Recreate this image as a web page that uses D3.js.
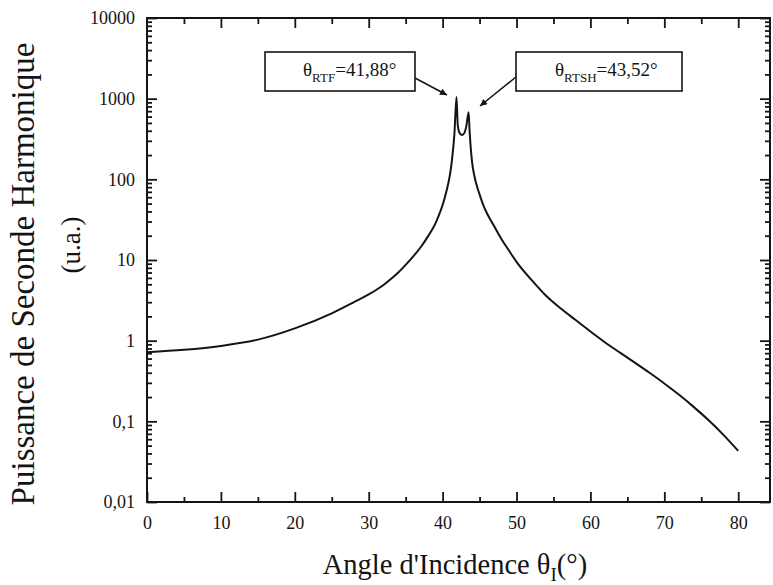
<!DOCTYPE html>
<html>
<head>
<meta charset="utf-8">
<script src="https://cdn.jsdelivr.net/npm/d3@7"></script>
<style>
  html, body { margin: 0; padding: 0; background: #fff; }
  svg { display: block; }
  svg text { font-family: "Liberation Serif", "DejaVu Serif", serif !important; fill: #141414; }
</style>
</head>
<body>
<svg id="chart" width="773" height="585"></svg>
<script>
// ---- data ----
const angles = [0, 5, 10, 15, 20, 25, 28, 29, 30, 31, 32, 33, 34, 35, 36, 37, 38, 39, 39.5, 40, 40.5, 41, 41.3, 41.6, 41.88,
  42.05, 42.3, 42.6, 42.9, 43.2, 43.52, 43.65, 43.8, 44.0, 44.3, 44.6, 45, 45.5, 46, 47, 48, 49, 50,
  52, 54, 56, 58, 60, 62, 64, 66, 68, 70, 72, 74, 76, 78, 80];
const power = [0.72, 0.77, 0.86, 1.03, 1.42, 2.18, 3.0, 3.35, 3.75, 4.25, 4.9, 5.8, 7.0, 8.7, 11.0, 14.3, 19.5, 28, 36, 48, 70, 115, 185, 370, 1050,
  470, 375, 355, 370, 450, 680, 400, 250, 160, 110, 85, 65, 48, 38, 26, 18, 13, 9.5,
  5.7, 3.6, 2.5, 1.8, 1.3, 0.95, 0.71, 0.535, 0.40, 0.295, 0.213, 0.150, 0.103, 0.068, 0.043];

const xTickValues = [0, 10, 20, 30, 40, 50, 60, 70, 80];
const xMinorValues = [5, 15, 25, 35, 45, 55, 65, 75];
const yTickValues = [10000, 1000, 100, 10, 1, 0.1, 0.01];
const yTickLabels = ["10000", "1000", "100", "10", "1", "0,1", "0,01"];

const annotations = [
  { name: "RTF", value: "=41,88°" },
  { name: "RTSH", value: "=43,52°" }
];
const xTitle = "Angle d'Incidence θ";
const xTitleSub = "I";
const xTitleEnd = "(°)";
const yTitle1 = "Puissance de Seconde Harmonique";
const yTitle2 = "(u.a.)";

// ---- layout ----
const SERIF = "Liberation Serif";
const L = 147, R = 770, T = 18, B = 502;
const svg = d3.select("#chart").attr("font-family", SERIF);
const x = d3.scaleLinear().domain([0, 84.3]).range([L, R]);
const y = d3.scaleLog().domain([0.01, 10000]).range([B, T]);

const yMinor = [];
for (let e = -2; e < 4; e++) for (let m = 2; m <= 9; m++) yMinor.push(m * Math.pow(10, e));

function styleAxis(g) {
  g.attr("font-family", SERIF);
  g.selectAll("path.domain").remove();
  g.selectAll(".tick line").attr("stroke", "#141414").attr("stroke-width", 1.8);
  g.selectAll("text").attr("font-size", 18).attr("font-family", SERIF).attr("fill", "#141414");
}

// bottom
svg.append("g").attr("transform", `translate(0,${B})`)
  .call(d3.axisBottom(x).tickValues(xTickValues).tickSize(-10).tickPadding(14).tickFormat(d3.format("d")))
  .call(styleAxis);
svg.append("g").attr("transform", `translate(0,${B})`)
  .call(d3.axisBottom(x).tickValues(xMinorValues).tickSize(-5).tickFormat(""))
  .call(styleAxis);
// top
svg.append("g").attr("transform", `translate(0,${T})`)
  .call(d3.axisTop(x).tickValues(xTickValues.slice(1)).tickSize(-10).tickFormat(""))
  .call(styleAxis);
svg.append("g").attr("transform", `translate(0,${T})`)
  .call(d3.axisTop(x).tickValues(xMinorValues).tickSize(-6).tickFormat(""))
  .call(styleAxis);
// left
svg.append("g").attr("transform", `translate(${L},0)`)
  .call(d3.axisLeft(y).tickValues(yTickValues).tickSize(-10).tickPadding(12)
    .tickFormat((d, i) => yTickLabels[i]))
  .call(styleAxis);
svg.append("g").attr("transform", `translate(${L},0)`)
  .call(d3.axisLeft(y).tickValues(yMinor).tickSize(-5).tickFormat(""))
  .call(styleAxis);
// right
svg.append("g").attr("transform", `translate(${R},0)`)
  .call(d3.axisRight(y).tickValues(yTickValues).tickSize(-10).tickFormat(""))
  .call(styleAxis);
svg.append("g").attr("transform", `translate(${R},0)`)
  .call(d3.axisRight(y).tickValues(yMinor).tickSize(-5).tickFormat(""))
  .call(styleAxis);

// frame
svg.append("rect").attr("x", L).attr("y", T).attr("width", R - L).attr("height", B - T)
  .attr("fill", "none").attr("stroke", "#141414").attr("stroke-width", 2);

// curve
const pts = angles.map((a, i) => [a, power[i]]);
svg.append("path").datum(pts)
  .attr("fill", "none").attr("stroke", "#141414").attr("stroke-width", 2)
  .attr("d", d3.line().x(d => x(d[0])).y(d => y(d[1])).curve(d3.curveMonotoneX));

// arrow marker
svg.append("defs").append("marker").attr("id", "ah")
  .attr("viewBox", "0 0 10 10").attr("refX", 10).attr("refY", 5)
  .attr("markerWidth", 12).attr("markerHeight", 7).attr("markerUnits", "userSpaceOnUse")
  .attr("orient", "auto")
  .append("path").attr("d", "M0,0 L10,5 L0,10 Z").attr("fill", "#141414");

// annotation boxes
const boxes = [
  { x0: 265, x1: 415, tx: 303, ax: 415, ay: 78, bx: 447, by: 95 },
  { x0: 516, x1: 682, tx: 555, ax: 516, ay: 77, bx: 480, by: 106 }
];
boxes.forEach((b, i) => {
  svg.append("rect").attr("x", b.x0).attr("y", 52).attr("width", b.x1 - b.x0).attr("height", 39)
    .attr("fill", "#fff").attr("stroke", "#141414").attr("stroke-width", 1.6);
  const t = svg.append("text").attr("x", b.tx).attr("y", 76).attr("font-size", 19).attr("font-family", SERIF);
  t.append("tspan").text("θ");
  t.append("tspan").attr("font-size", 13).attr("dy", 6).text(annotations[i].name);
  t.append("tspan").attr("dy", -6).text(annotations[i].value);
  svg.append("line").attr("x1", b.ax).attr("y1", b.ay).attr("x2", b.bx).attr("y2", b.by)
    .attr("stroke", "#141414").attr("stroke-width", 1.5).attr("marker-end", "url(#ah)");
});

// axis titles
const xt = svg.append("text").attr("x", 455).attr("y", 574).attr("text-anchor", "middle")
  .attr("font-size", 28.5).attr("font-family", SERIF);
xt.append("tspan").text(xTitle);
xt.append("tspan").attr("font-size", 19).attr("dy", 7).text(xTitleSub);
xt.append("tspan").attr("dy", -7).text(xTitleEnd);

svg.append("text").attr("transform", "translate(34,274) rotate(-90)")
  .attr("text-anchor", "middle").attr("font-size", 33).attr("font-family", SERIF).text(yTitle1);
svg.append("text").attr("transform", "translate(80,245) rotate(-90)")
  .attr("text-anchor", "middle").attr("font-size", 27).attr("font-family", SERIF).text(yTitle2);
</script>
</body>
</html>
